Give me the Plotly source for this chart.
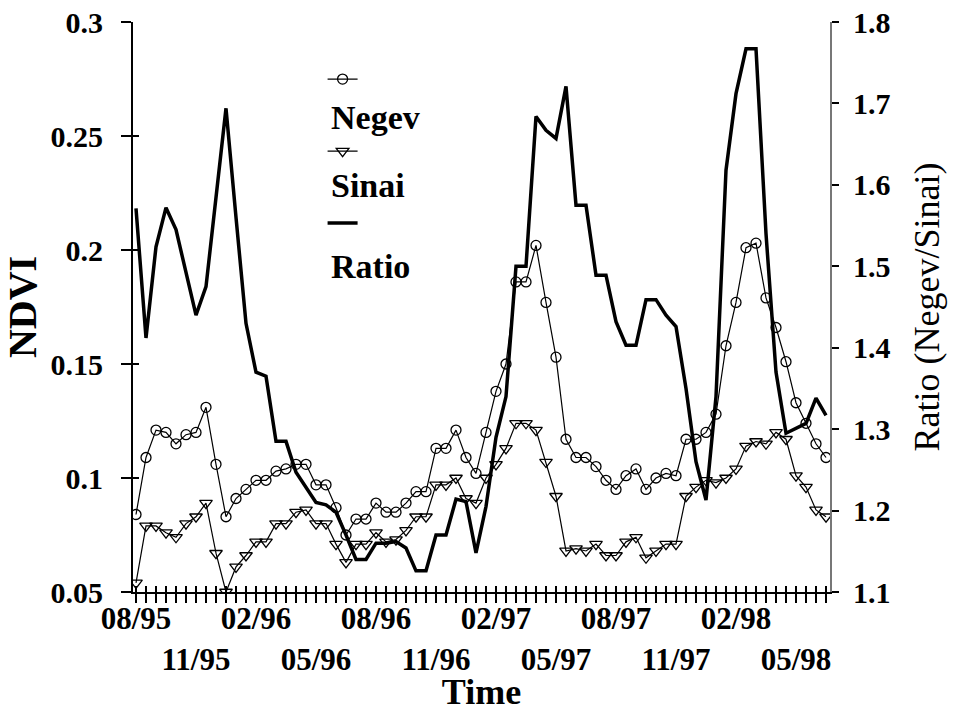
import plotly.graph_objects as go

# 15-day composite periods, 08/95 (first half) ... 06/98 (second half)
period = list(range(70))

negev = [0.084, 0.109, 0.121, 0.120, 0.115, 0.119, 0.120, 0.131, 0.106, 0.083,
         0.091, 0.095, 0.099, 0.099, 0.103, 0.104, 0.106, 0.106, 0.097, 0.097,
         0.087, 0.075, 0.082, 0.082, 0.089, 0.085, 0.085, 0.089, 0.094, 0.094,
         0.113, 0.113, 0.121, 0.109, 0.102, 0.120, 0.138, 0.150, 0.186, 0.186,
         0.202, 0.177, 0.153, 0.117, 0.109, 0.109, 0.105, 0.099, 0.095, 0.101,
         0.104, 0.095, 0.100, 0.102, 0.101, 0.117, 0.117, 0.120, 0.128, 0.158,
         0.177, 0.201, 0.203, 0.179, 0.166, 0.151, 0.133, 0.124, 0.115, 0.109]

sinai = [0.054, 0.079, 0.079, 0.076, 0.074, 0.080, 0.083, 0.089, 0.067, 0.050,
         0.061, 0.066, 0.072, 0.072, 0.080, 0.080, 0.085, 0.086, 0.080, 0.080,
         0.071, 0.063, 0.071, 0.071, 0.076, 0.072, 0.073, 0.077, 0.083, 0.083,
         0.097, 0.097, 0.100, 0.091, 0.089, 0.100, 0.106, 0.113, 0.124, 0.124,
         0.121, 0.107, 0.092, 0.068, 0.069, 0.068, 0.071, 0.066, 0.066, 0.072,
         0.074, 0.065, 0.068, 0.071, 0.071, 0.092, 0.096, 0.099, 0.098, 0.100,
         0.104, 0.114, 0.116, 0.115, 0.120, 0.117, 0.101, 0.096, 0.086, 0.083]

ratio = [1.571, 1.412, 1.524, 1.572, 1.545, 1.491, 1.440, 1.475, 1.586, 1.694,
         1.560, 1.430, 1.370, 1.365, 1.285, 1.285, 1.247, 1.229, 1.210, 1.207,
         1.198, 1.170, 1.140, 1.140, 1.160, 1.160, 1.162, 1.154, 1.126, 1.126,
         1.170, 1.170, 1.214, 1.211, 1.148, 1.205, 1.290, 1.340, 1.500, 1.500,
         1.684, 1.667, 1.657, 1.721, 1.575, 1.575, 1.489, 1.489, 1.432, 1.403,
         1.403, 1.459, 1.459, 1.440, 1.426, 1.350, 1.260, 1.213, 1.340, 1.618,
         1.712, 1.767, 1.767, 1.540, 1.370, 1.295, 1.301, 1.307, 1.338, 1.317]

label_idx = [0, 6, 12, 18, 24, 30, 36, 42, 48, 54, 60, 66]
label_txt = ["08/95", "11/95", "02/96", "05/96", "08/96", "11/96",
             "02/97", "05/97", "08/97", "11/97", "02/98", "05/98"]

ndvi_ticks = [0.05, 0.1, 0.15, 0.2, 0.25, 0.3]
ndvi_ticktext = ["0.05", "0.1", "0.15", "0.2", "0.25", "0.3"]
ratio_ticks = [1.1, 1.2, 1.3, 1.4, 1.5, 1.6, 1.7, 1.8]
ratio_ticktext = ["1.1", "1.2", "1.3", "1.4", "1.5", "1.6", "1.7", "1.8"]

# alternate rows for the date labels
xt_text = []
for i in period:
    if i in label_idx:
        k = label_idx.index(i)
        t = label_txt[k]
        xt_text.append(t if k % 2 == 0 else "<br>" + t)
    else:
        xt_text.append("")

SERIF = "Liberation Serif"
BOLD = dict(family=SERIF, color="black", weight="bold")

fig = go.Figure()
fig.add_trace(go.Scatter(
    x=period, y=negev, name=" ", mode="lines+markers", legendgroup="a",
    line=dict(color="black", width=1.2),
    marker=dict(symbol="circle-open", size=10, color="black", line=dict(width=1.3)),
))
fig.add_trace(go.Scatter(
    x=period, y=sinai, name=" ", mode="lines+markers", legendgroup="b",
    xaxis="x2", yaxis="y3",
    line=dict(color="black", width=1.2),
    marker=dict(symbol="triangle-down-open", size=11, color="black", line=dict(width=1.3)),
))
fig.add_trace(go.Scatter(
    x=period, y=ratio, name=" ", mode="lines", yaxis="y2", legendgroup="c",
    line=dict(color="black", width=3.5),
))

xr = [-0.3, 69.4]
fig.update_layout(
    width=953, height=712,
    margin=dict(l=133, r=123, t=22, b=120, autoexpand=False),
    paper_bgcolor="white", plot_bgcolor="white",
    showlegend=True,
    legend=dict(x=0.272, y=0.934, xanchor="left", yanchor="top",
                font=dict(family=SERIF, size=20, color="black"),
                tracegroupgap=43, bgcolor="rgba(0,0,0,0)", borderwidth=0),
    xaxis=dict(range=xr, tickmode="array", tickvals=period, ticktext=xt_text,
               ticks="outside", ticklen=9, tickwidth=1.5, tickcolor="black",
               showline=True, linecolor="black", linewidth=2, showgrid=False,
               zeroline=False, tickangle=0, tickfont=dict(size=31, **BOLD),
               ticklabelstandoff=-11, automargin=False,
               title=dict(text="Time", font=dict(size=36, **BOLD), standoff=20)),
    xaxis2=dict(range=xr, overlaying="x", anchor="y", side="bottom",
                tickmode="array", tickvals=period, ticks="inside", ticklen=6,
                tickwidth=1.5, tickcolor="black", showticklabels=False,
                showline=False, showgrid=False, zeroline=False, automargin=False),
    yaxis=dict(range=[0.05, 0.3], tickmode="array", tickvals=ndvi_ticks,
               ticktext=ndvi_ticktext, ticks="outside", ticklen=10, tickwidth=1.5,
               tickcolor="black", showline=True, linecolor="black", linewidth=2,
               showgrid=False, zeroline=False, tickfont=dict(size=30, **BOLD),
               ticklabelstandoff=12, automargin=False,
               title=dict(text="NDVI", font=dict(size=40, **BOLD), standoff=10)),
    yaxis3=dict(range=[0.05, 0.3], overlaying="y", anchor="x", side="left",
                tickmode="array", tickvals=ndvi_ticks, ticks="inside", ticklen=6,
                tickwidth=1.5, tickcolor="black", showticklabels=False,
                showline=False, showgrid=False, zeroline=False, automargin=False),
    yaxis2=dict(range=[1.1, 1.8], overlaying="y", anchor="x", side="right",
                tickmode="array", tickvals=ratio_ticks, ticktext=ratio_ticktext,
                ticks="outside", ticklen=7, tickwidth=1.5, tickcolor="black",
                showline=True, linecolor="#777777", linewidth=2, showgrid=False,
                zeroline=False, tickfont=dict(size=30, **BOLD), ticklabelstandoff=8,
                automargin=False,
                title=dict(text="Ratio (Negev/Sinai)",
                           font=dict(family=SERIF, size=36, color="black"), standoff=24)),
    yaxis4=dict(range=[1.1, 1.8], overlaying="y", anchor="x", side="right",
                tickmode="array", tickvals=ratio_ticks, ticks="inside", ticklen=7,
                tickwidth=1.5, tickcolor="black", showticklabels=False,
                showline=False, showgrid=False, zeroline=False, automargin=False),
)

# legend labels sit beneath their symbols, as in the original
legend_labels = ["Negev", "Sinai", "Ratio"]
legend_label_y = [0.8316, 0.7123, 0.5719]
for txt, yy in zip(legend_labels, legend_label_y):
    fig.add_annotation(text=txt, x=0.2812, y=yy, xref="paper", yref="paper",
                       xanchor="left", yanchor="middle", showarrow=False,
                       font=dict(size=34, **BOLD))

fig.write_html("out.html")
